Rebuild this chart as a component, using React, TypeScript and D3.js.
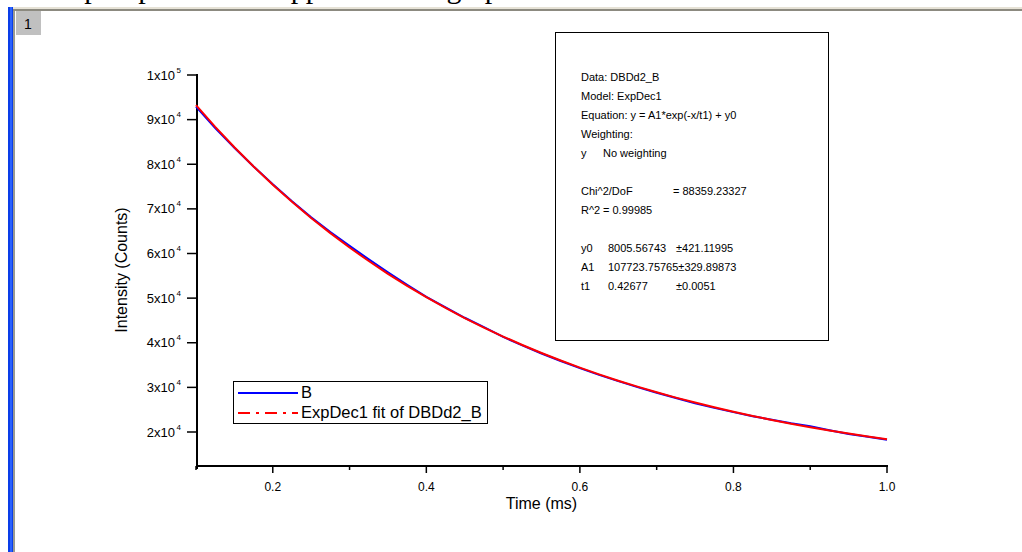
import React from "react";
import * as d3 from "d3";

const timeMs = [0.1, 0.125, 0.15, 0.175, 0.2, 0.225, 0.25, 0.275, 0.3, 0.325, 0.35, 0.375, 0.4, 0.425, 0.45, 0.475, 0.5, 0.525, 0.55, 0.575, 0.6, 0.625, 0.65, 0.675, 0.7, 0.725, 0.75, 0.775, 0.8, 0.825, 0.85, 0.875, 0.9, 0.925, 0.95, 0.975, 1.0];
const seriesB = [92900, 88100, 83700, 79500, 75500, 71700, 68100, 64800, 61700, 58700, 55800, 53000, 50300, 47900, 45600, 43500, 41300, 39400, 37600, 35900, 34300, 32800, 31400, 30050, 28800, 27600, 26450, 25400, 24450, 23550, 22750, 21950, 21300, 20400, 19550, 18950, 18250];
const fitValues = [93230, 88380, 83810, 79500, 75430, 71590, 67970, 64560, 61340, 58310, 55450, 52750, 50200, 47800, 45540, 43400, 41390, 39490, 37700, 36010, 34420, 32910, 31500, 30160, 28900, 27710, 26590, 25530, 24530, 23590, 22710, 21870, 21080, 20340, 19640, 18970, 18350];

const yTickValues = [20000, 30000, 40000, 50000, 60000, 70000, 80000, 90000, 100000];
const xMajorTicks = [0.2, 0.4, 0.6, 0.8, 1.0];
const xMinorTicks = [0.1, 0.3, 0.5, 0.7, 0.9];

const legendLabels = ["B", "ExpDec1 fit of DBDd2_B"];
const infoRows: string[][] = [
  ["Data: DBDd2_B"],
  ["Model: ExpDec1"],
  ["Equation: y = A1*exp(-x/t1) + y0"],
  ["Weighting:"],
  ["y", "No weighting"],
  [],
  ["Chi^2/DoF", "", "= 88359.23327"],
  ["R^2", "=  0.99985"],
  [],
  ["y0", "8005.56743", "\u00b1421.11995"],
  ["A1", "107723.75765\u00b1329.89873"],
  ["t1", "0.42677", "\u00b10.0051"],
];

export default function App() {
  const W = 1022;
  const H = 552;
  const x = d3.scaleLinear().domain([0.1, 1.0]).range([196, 887]);
  const y = d3.scaleLinear().domain([20000, 100000]).range([432, 75]);
  const yBottom = 466;

  const line = d3
    .line<number>()
    .x((_, i) => x(timeMs[i]))
    .y((v) => y(v));

  const font = "'Liberation Sans', Arial, sans-serif";
  const colX = [581, 608, 676];
  const colXRow2 = [581, 603];

  return (
    <svg
      width={W}
      height={H}
      style={{ position: "absolute", left: 0, top: 0, background: "#fff" }}
      fontFamily={font}
    >
      <rect x={0} y={0} width={W} height={H} fill="#ffffff" />
      {/* cut-off document text at the top */}
      <text x={40} y={-2} fontFamily="'Liberation Serif', 'Times New Roman', serif" fontSize={30} fill="#000">
        the plot parameters appear on the graph.
      </text>
      {/* window frame */}
      <rect x={13} y={7} width={W - 13} height={2} fill="#e6e2d6" />
      <rect x={13} y={9} width={W - 13} height={2} fill="#8c8a80" />
      <rect x={8} y={7} width={5} height={H - 7} fill="#0a3ee8" />
      <rect x={10} y={7} width={2} height={H - 7} fill="#2a62ff" />
      <rect x={13} y={11} width={2} height={H - 11} fill="#9a9a92" />
      <rect x={16} y={11} width={25} height={24} fill="#c0c0c0" />
      <text x={28} y={29} fontSize={14} textAnchor="middle" fill="#000">1</text>

      {/* axes */}
      <line x1={197} y1={74} x2={197} y2={469} stroke="#000" strokeWidth={2} />
      <line x1={196} y1={yBottom} x2={888} y2={yBottom} stroke="#000" strokeWidth={2} />
      {yTickValues.map((v) => (
        <g key={"yt" + v}>
          <line x1={187} x2={197} y1={y(v)} y2={y(v)} stroke="#000" strokeWidth={1.5} />
          <text x={175} y={y(v) + 4.5} fontSize={13} textAnchor="end" fill="#000">
            {`${v / (v >= 100000 ? 100000 : 10000)}x10`}
          </text>
          <text x={176.5} y={y(v) - 2.5} fontSize={8} fill="#000">
            {v >= 100000 ? "5" : "4"}
          </text>
        </g>
      ))}
      {xMajorTicks.map((v) => (
        <g key={"xt" + v}>
          <line x1={x(v)} x2={x(v)} y1={yBottom} y2={yBottom + 7} stroke="#000" strokeWidth={1.5} />
          <text x={x(v)} y={491} fontSize={12} textAnchor="middle" fill="#000">
            {v.toFixed(1)}
          </text>
        </g>
      ))}
      {xMinorTicks.map((v) => (
        <line key={"xm" + v} x1={x(v)} x2={x(v)} y1={yBottom} y2={yBottom + 4} stroke="#000" strokeWidth={1.5} />
      ))}
      <text x={541.5} y={509} fontSize={16} textAnchor="middle" fill="#000">Time (ms)</text>
      <text
        transform={`translate(127, 270) rotate(-90)`}
        fontSize={16}
        textAnchor="middle"
        fill="#000"
      >
        Intensity (Counts)
      </text>

      {/* data */}
      <path d={line(seriesB) || ""} fill="none" stroke="#0000ff" strokeWidth={2} />
      <path d={line(fitValues) || ""} fill="none" stroke="#ff0000" strokeWidth={2} />

      {/* legend */}
      <rect x={233.5} y={381.5} width={254} height={42} fill="#fff" stroke="#000" strokeWidth={1} />
      <line x1={238} x2={298} y1={393} y2={393} stroke="#0000ff" strokeWidth={2} />
      <text x={301} y={398} fontSize={16.5} fill="#000">{legendLabels[0]}</text>
      <line x1={238} x2={298} y1={413} y2={413} stroke="#ff0000" strokeWidth={2} strokeDasharray="12 6 3 6" />
      <text x={301} y={418} fontSize={16.5} fill="#000">{legendLabels[1]}</text>

      {/* info box */}
      <rect x={555.5} y={32.5} width={273} height={308} fill="#fff" stroke="#000" strokeWidth={1} />
      {infoRows.map((row, i) =>
        row.map((cell, j) => {
          const cols = i === 4 || i === 7 ? colXRow2 : colX;
          const cx = i === 6 && j === 2 ? 673 : cols[j];
          return (
            <text key={`r${i}c${j}`} x={cx} y={81 + i * 19} fontSize={11} fill="#000">
              {cell}
            </text>
          );
        })
      )}
    </svg>
  );
}
